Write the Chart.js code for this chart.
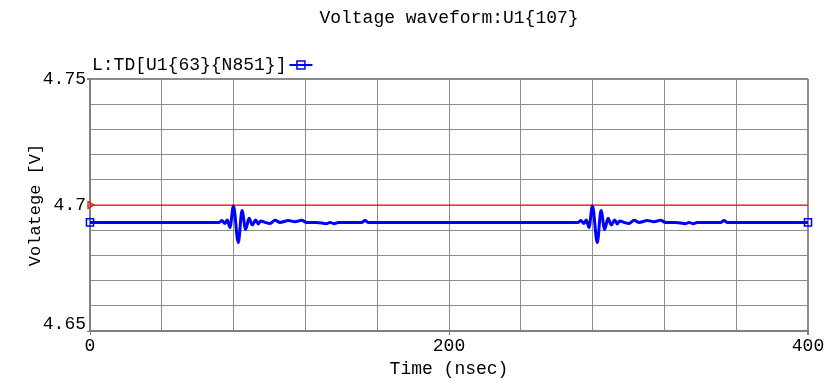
<!DOCTYPE html>
<html>
<head>
<meta charset="utf-8">
<script src="https://cdn.jsdelivr.net/npm/chart.js@4.4.1/dist/chart.umd.min.js"></script>
<style>
  html, body { margin: 0; padding: 0; background: #fff; }
  #wrap { width: 835px; height: 382px; }
</style>
</head>
<body>
<div id="wrap"><canvas id="chart" width="835" height="382"></canvas></div>
<script>
const CHART_TITLE = "Voltage waveform:U1{107}";
const LEGEND_LABEL = "L:TD[U1{63}{N851}]";
const X_TITLE = "Time (nsec)";
const Y_TITLE = "Volatege [V]";
const FONT = "'Liberation Mono', 'DejaVu Sans Mono', monospace";

const X_LABELS = [0, 200, 400];
const Y_LABELS = [4.65, 4.7, 4.75];

// td waveform (nsec, V)
const tdTimes = [
  0, 72.0, 73.4, 75.2, 76.5, 78.0, 79.9, 82.6, 84.7, 86.7, 88.6, 90.4, 92.3, 93.8, 95.1,
  97.5, 100.3, 103.1, 105.9, 110.5, 114.2, 117.9, 120.7, 126.3, 131.9, 133.7, 135.9, 138.3,
  151.3, 153.2, 155.1,
  272.0, 273.4, 275.2, 276.5, 278.0, 279.9, 282.6, 284.7, 286.7, 288.6, 290.4, 292.3, 293.8, 295.1,
  297.5, 300.3, 303.1, 305.9, 310.5, 314.2, 317.9, 320.7, 326.3, 331.9, 333.7, 335.9, 338.3,
  351.3, 353.2, 355.1, 400
];
const tdVolts = [
  4.6931, 4.6931, 4.6938, 4.6927, 4.6940, 4.6911, 4.6997, 4.6851, 4.6978, 4.6903, 4.6947, 4.6921, 4.6940, 4.6925, 4.6937,
  4.6931, 4.6927, 4.6939, 4.6931, 4.6938, 4.6934, 4.6939, 4.6931, 4.6931, 4.6926, 4.6931, 4.6926, 4.6931,
  4.6931, 4.6938, 4.6931,
  4.6931, 4.6938, 4.6927, 4.6940, 4.6911, 4.6997, 4.6851, 4.6978, 4.6903, 4.6947, 4.6921, 4.6940, 4.6925, 4.6937,
  4.6931, 4.6927, 4.6939, 4.6931, 4.6938, 4.6934, 4.6939, 4.6931, 4.6931, 4.6926, 4.6931, 4.6926, 4.6931,
  4.6931, 4.6938, 4.6931, 4.6931
];

// reference level
const refTimes = [0, 400];
const refVolts = [4.70, 4.70];

const GRID = "#8c8c8c";
const FRAME = "#808080";

const decorations = {
  id: "decorations",
  afterDraw(chart) {
    const { ctx, chartArea } = chart;
    ctx.save();
    ctx.fillStyle = "#000";
    ctx.font = `18px ${FONT}`;
    ctx.textBaseline = "middle";
    ctx.textAlign = "center";
    ctx.fillText(CHART_TITLE, (chartArea.left + chartArea.right) / 2, 18);

    ctx.textAlign = "left";
    ctx.fillText(LEGEND_LABEL, chartArea.left + 2, 65);
    const w = ctx.measureText(LEGEND_LABEL).width;
    const x0 = chartArea.left + 2 + w + 3;
    ctx.strokeStyle = "#0000ff";
    ctx.lineWidth = 2;
    ctx.beginPath();
    ctx.moveTo(x0, 65);
    ctx.lineTo(x0 + 23, 65);
    ctx.stroke();
    ctx.lineWidth = 1.5;
    ctx.strokeRect(x0 + 7.5, 61, 8, 8);
    ctx.restore();
  }
};

const isLabelY = v => Y_LABELS.some(l => Math.abs(l - v) < 1e-6);
const isLabelX = v => X_LABELS.some(l => Math.abs(l - v) < 1e-6);

new Chart(document.getElementById("chart"), {
  type: "line",
  data: {
    datasets: [
      {
        data: refTimes.map((t, i) => ({ x: t, y: refVolts[i] })),
        borderColor: "#ff0000",
        borderWidth: 1,
        pointStyle: "triangle",
        rotation: 90,
        pointRadius: [4, 0],
        pointBorderColor: "#ff0000",
        pointBackgroundColor: "rgba(0,0,0,0)",
        pointBorderWidth: 1.2,
        clip: false,
      },
      {
        data: tdTimes.map((t, i) => ({ x: t, y: tdVolts[i] })),
        borderColor: "#0000ff",
        borderWidth: 3,
        cubicInterpolationMode: "monotone",
        pointStyle: "rect",
        pointRadius: tdTimes.map((t, i) => (i === 0 || i === tdTimes.length - 1) ? 5 : 0),
        pointBorderColor: "#0000ff",
        pointBackgroundColor: "rgba(0,0,0,0)",
        pointBorderWidth: 1.5,
        clip: false,
      }
    ]
  },
  options: {
    responsive: false,
    animation: false,
    devicePixelRatio: 1,
    layout: { padding: { left: 0, right: 27, top: 79, bottom: 0 } },
    plugins: { legend: { display: false }, tooltip: { enabled: false }, title: { display: false } },
    scales: {
      x: {
        type: "linear",
        min: 0,
        max: 400,
        ticks: {
          count: 11,
          autoSkip: false,
          maxRotation: 0,
          padding: 0,
          color: "#000",
          font: { family: FONT, size: 18 },
          callback: v => isLabelX(v) ? String(v) : "",
        },
        grid: {
          color: GRID,
          lineWidth: c => (c.tick && c.tick.value === 400) ? 2 : 1,
          tickLength: 4,
          tickColor: c => (c.tick && isLabelX(c.tick.value)) ? FRAME : "rgba(0,0,0,0)",
        },
        border: { color: FRAME, width: 2 },
        title: {
          display: true,
          text: X_TITLE,
          color: "#000",
          font: { family: FONT, size: 18 },
          padding: { top: 2, bottom: 2 },
        },
        afterFit(scale) { scale.height = 51; },
      },
      y: {
        type: "linear",
        min: 4.65,
        max: 4.75,
        ticks: {
          count: 11,
          autoSkip: false,
          padding: 1,
          color: "#000",
          font: { family: FONT, size: 18, lineHeight: 0.8 },
          callback: v => {
            if (!isLabelY(v)) return "";
            const s = String(Number(v.toFixed(2)));
            return Math.abs(v - 4.65) < 1e-6 ? [s, ""] : s;
          },
        },
        grid: {
          color: GRID,
          lineWidth: c => (c.tick && Math.abs(c.tick.value - 4.75) < 1e-6) ? 2 : 1,
          tickLength: 3,
          tickColor: c => (c.tick && isLabelY(c.tick.value)) ? FRAME : "rgba(0,0,0,0)",
        },
        border: { color: FRAME, width: 2 },
        title: {
          display: true,
          text: Y_TITLE,
          color: "#000",
          font: { family: FONT, size: 17 },
          padding: { top: 25, bottom: 25 },
        },
        afterFit(scale) { scale.width = 90; },
      }
    }
  },
  plugins: [decorations]
});
</script>
</body>
</html>
